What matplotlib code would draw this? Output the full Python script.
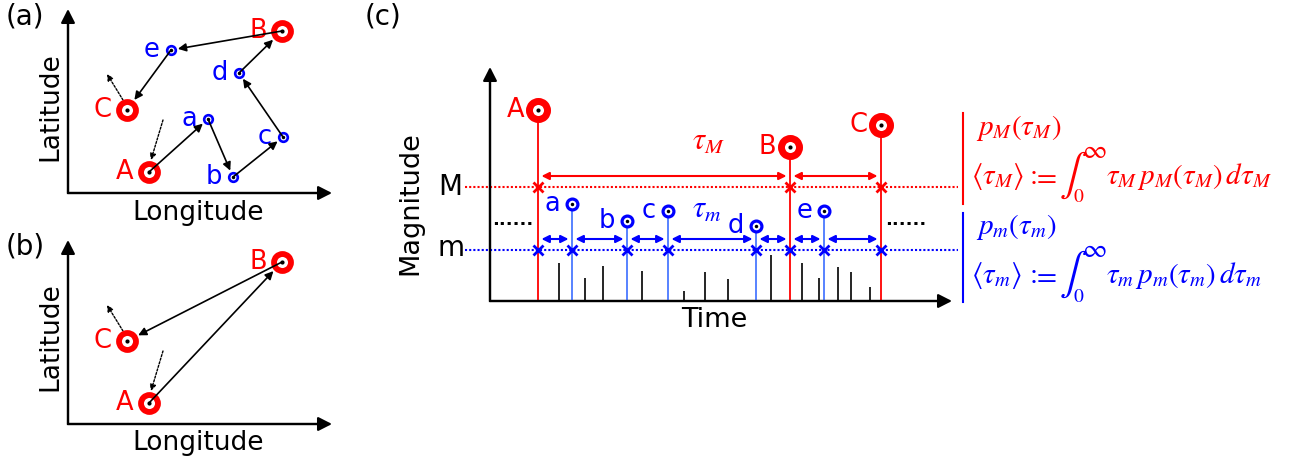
import matplotlib.pyplot as plt

plt.rcParams['font.family'] = 'DejaVu Sans'
plt.rcParams['mathtext.fontset'] = 'stix'

W, H = 1311, 463
RED = '#ff0000'
BLUE = '#0000ff'
LBLUE = '#4a78ff'

# (a), (b): epicentres in order of occurrence (arbitrary lon/lat units)
names = ['A', 'a', 'b', 'c', 'd', 'B', 'e', 'C']
lon = [81, 140, 165, 215, 171, 214, 103, 59]
lat = [21, 74, 16, 56, 120, 162, 143, 83]
large = ['A', 'B', 'C']
# dotted hints: where A came from, where C goes next (offsets from the event)
lead_in = [(14, 52), (2, 12)]
lead_out = [(-4, 10), (-20, 36)]

# (c): occurrence time and magnitude
big_names = ['A', 'B', 'C']
big_time = [48, 300, 391]
big_mag = [191, 154, 176]
small_names = ['a', 'b', 'c', 'd', 'e']
small_time = [82, 137, 178, 266, 334]
small_mag = [97, 80, 90, 75, 90]
bg_time = [69, 95, 113, 152, 194, 215, 238, 281, 312, 329, 348, 361, 380]
bg_mag = [38, 23, 35, 30, 10, 29, 22, 46, 38, 23, 34, 29, 14]
M_level = 114
m_level = 51

fig = plt.figure(figsize=(W / 100, H / 100), dpi=100)


def panel(x0, y0):
    # axes spanning the whole figure, data origin at pixel (x0, y0)
    ax = fig.add_axes([0, 0, 1, 1])
    ax.set_xlim(-x0, W - x0)
    ax.set_ylim(y0 - H, y0)
    ax.set_axis_off()
    return ax


def ftext(x, y, s, **kw):
    fig.text(x / W, 1 - y / H, s, **kw)


def axis_arrows(ax, xlen, ylen):
    ax.plot([0, 0, xlen - 4], [ylen - 4, 0, 0], color='k', lw=1.6,
            solid_capstyle='butt', solid_joinstyle='miter')
    for end in [(xlen, 0), (0, ylen)]:
        ax.annotate('', xy=end, xytext=(0, 0),
                    arrowprops=dict(arrowstyle='-|>,head_length=0.55,head_width=0.28',
                                    lw=1.6, color='k', shrinkA=0, shrinkB=0,
                                    mutation_scale=15))


def event(ax, x, y, name, big, sizes, offs):
    color = RED if big else BLUE
    ms, mew, dot, off = (sizes[0], sizes[1], sizes[4], offs[0]) if big else \
        (sizes[2], sizes[3], sizes[5], offs[1])
    ax.plot(x, y, 'o', ms=ms, mew=mew, mec=color, mfc='white', zorder=4)
    ax.plot(x, y, 'o', ms=dot, color='k', mew=0, zorder=5)
    ax.annotate(name, (x, y), xytext=(-off, 0), textcoords='offset points',
                ha='right', va='center', color=color, fontsize=18.5, zorder=6)


def map_panel(ax, seq):
    axis_arrows(ax, 264, 184)
    pos = {n: (lon[i], lat[i]) for i, n in enumerate(names)}
    for n in seq:
        event(ax, *pos[n], n, n in large, (12.2, 4.2, 6.2, 1.9, 3, 2.5), (11, 8))
    for n0, n1 in zip(seq[:-1], seq[1:]):
        ax.annotate('', xy=pos[n1], xytext=pos[n0],
                    arrowprops=dict(arrowstyle='-|>', lw=1.2, color='k', shrinkA=0,
                                    shrinkB=9 if n1 in large else 5,
                                    mutation_scale=12), zorder=7)
    ax_, ay_ = pos['A']
    cx_, cy_ = pos['C']
    dotted = dict(arrowstyle='-|>', lw=1.0, color='k', ls=(0, (1.5, 1.2)),
                  shrinkA=0, shrinkB=0, mutation_scale=9)
    ax.annotate('', xy=(ax_ + lead_in[1][0], ay_ + lead_in[1][1]),
                xytext=(ax_ + lead_in[0][0], ay_ + lead_in[0][1]), arrowprops=dotted)
    ax.annotate('', xy=(cx_ + lead_out[1][0], cy_ + lead_out[1][1]),
                xytext=(cx_ + lead_out[0][0], cy_ + lead_out[0][1]), arrowprops=dotted)


# --- (a) all events ---
ax_a = panel(68, 193)
map_panel(ax_a, names)
ftext(25, 16, '(a)', fontsize=20, ha='center', va='center')
ftext(50, 107, 'Latitude', fontsize=19, rotation=90, ha='center', va='center')
ftext(198, 213, 'Longitude', fontsize=19, ha='center', va='center')

# --- (b) large events only ---
ax_b = panel(68, 424)
map_panel(ax_b, large)
ftext(25, 246, '(b)', fontsize=20, ha='center', va='center')
ftext(50, 337, 'Latitude', fontsize=19, rotation=90, ha='center', va='center')
ftext(198, 443, 'Longitude', fontsize=19, ha='center', va='center')

# --- (c) magnitude vs time ---
ax_c = panel(490, 301)
axis_arrows(ax_c, 462, 234)
ax_c.plot([-25, 468], [M_level, M_level], color=RED, lw=1.5, ls=(0, (1, 1)))
ax_c.plot([-25, 468], [m_level, m_level], color=BLUE, lw=1.5, ls=(0, (1, 1)))
ax_c.vlines(bg_time, 0, bg_mag, color='k', lw=1.2)
ax_c.vlines(small_time, 0, small_mag, color=LBLUE, lw=1.3, zorder=2)
ax_c.vlines(big_time, 0, big_mag, color=RED, lw=1.3, zorder=2)

all_time = sorted(big_time + small_time)
ax_c.plot(big_time, [M_level] * len(big_time), 'x', color=RED, ms=7, mew=2, zorder=3)
ax_c.plot(all_time, [m_level] * len(all_time), 'x', color=BLUE, ms=7, mew=2, zorder=3)

for t, mg, n in zip(big_time, big_mag, big_names):
    event(ax_c, t, mg, n, True, (13, 5, 7.8, 2.3, 3, 2.5), (10, 8.6))
for t, mg, n in zip(small_time, small_mag, small_names):
    event(ax_c, t, mg, n, False, (13, 5, 7.8, 2.3, 3, 2.5), (10, 8.6))

for times, level, color in [(big_time, M_level + 11, RED), (all_time, m_level + 11, BLUE)]:
    for t0, t1 in zip(times[:-1], times[1:]):
        ax_c.annotate('', xy=(t1, level), xytext=(t0, level),
                      arrowprops=dict(arrowstyle='<|-|>', lw=1.5, color=color,
                                      shrinkA=2.5, shrinkB=2.5, mutation_scale=11))

ax_c.text(202, 159, r'$\tau_M$', color=RED, fontsize=22, ha='left', va='center')
ax_c.text(202, 91, r'$\tau_m$', color=BLUE, fontsize=22, ha='left', va='center')
ax_c.text(23, 81, '......', fontsize=13, fontweight='bold', ha='center', va='center')
ax_c.text(416, 81, '......', fontsize=13, fontweight='bold', ha='center', va='center')

ftext(383, 16, '(c)', fontsize=20, ha='center', va='center')
ftext(410, 203, 'Magnitude', fontsize=19.5, rotation=90, ha='center', va='center')
ftext(714, 320, 'Time', fontsize=19.5, ha='center', va='center')
ftext(450, 187, 'M', fontsize=20, ha='center', va='center')
ftext(451, 248, 'm', fontsize=20, ha='center', va='center')

# interval distributions and mean intervals
ax_c.plot([473, 473], [97, 188], color=RED, lw=1.5)
ax_c.plot([473, 473], [-1, 88], color=BLUE, lw=1.5)
for dy, color, s in [(0, RED, 'M'), (99, BLUE, 'm')]:
    ftext(976, 135 + dy, rf'$p_{s}(\tau_{s})$', color=color, fontsize=21, va='baseline')
    ftext(971, 184 + dy, rf'$\langle\tau_{s}\rangle$', color=color,
          fontsize=21, va='baseline')
    ftext(1025, 184 + dy, r'$:$', color=color, fontsize=21, va='baseline')
    ftext(1032, 184 + dy, r'$=$', color=color, fontsize=21, va='baseline')
    ftext(1059, 175 + dy, r'$\int$', color=color, fontsize=30, va='center')
    ftext(1082, 151 + dy, r'$\infty$', color=color, fontsize=19, va='center')
    ftext(1073, 197 + dy, r'$0$', color=color, fontsize=14, va='center')
    ftext(1106, 184 + dy, rf'$\tau_{s}\,p_{s}(\tau_{s})\,d\tau_{s}$', color=color,
          fontsize=21, va='baseline')

fig.savefig('out.png', dpi=100)
